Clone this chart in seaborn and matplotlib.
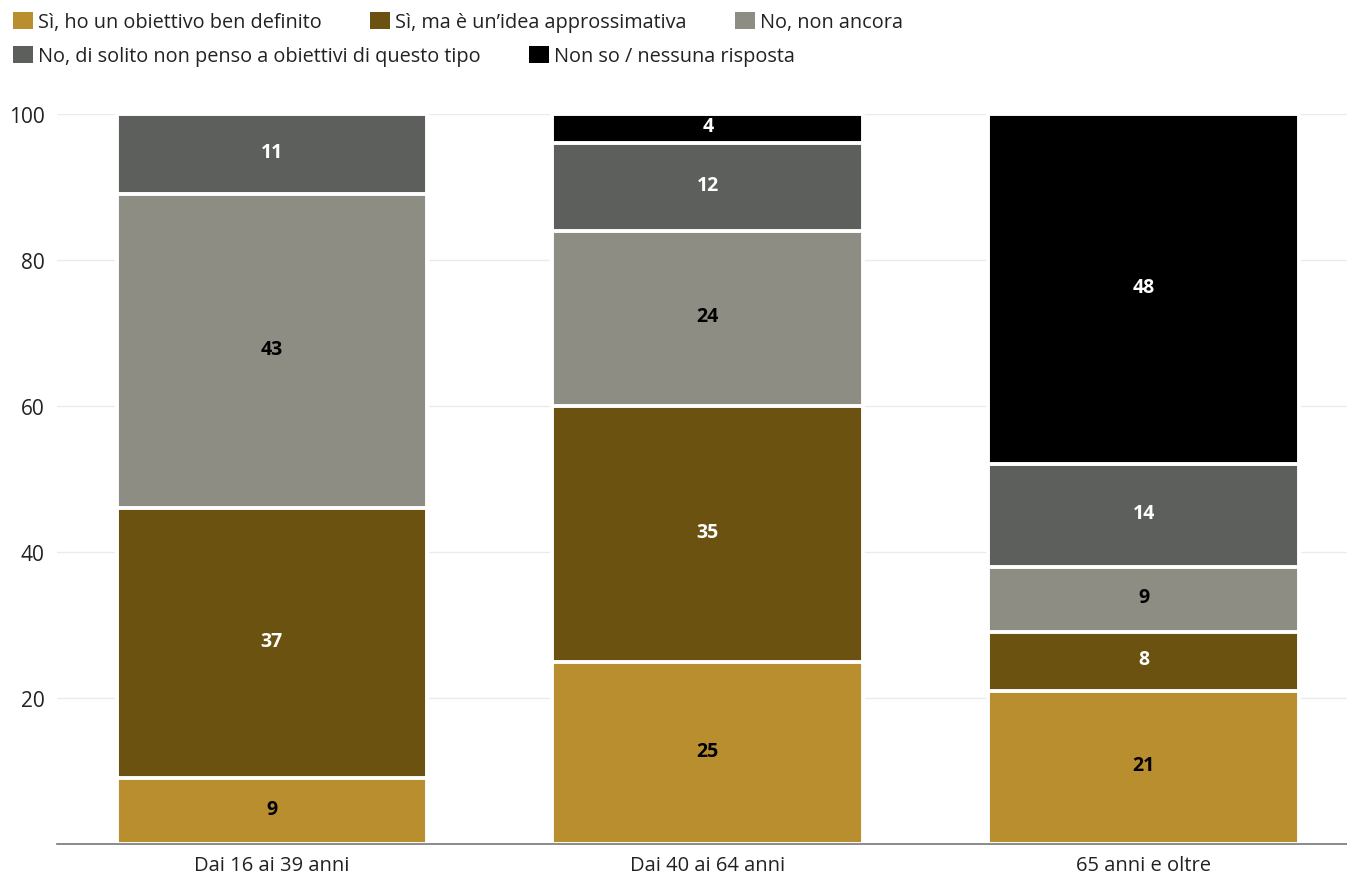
import matplotlib
matplotlib.use("Agg")
import matplotlib.pyplot as plt
import seaborn as sns
import numpy as np
import pandas as pd
from matplotlib.patches import Patch

categories = ["Dai 16 ai 39 anni", "Dai 40 ai 64 anni", "65 anni e oltre"]
series = [
    "Sì, ho un obiettivo ben definito",
    "Sì, ma è un’idea approssimativa",
    "No, non ancora",
    "No, di solito non penso a obiettivi di questo tipo",
    "Non so / nessuna risposta",
]
definito = [9, 25, 21]
approssimativa = [37, 35, 8]
non_ancora = [43, 24, 9]
non_penso = [11, 12, 14]
non_so = [0, 4, 48]

colors = ["#B98E2F", "#6B5211", "#8E8D83", "#5D5F5C", "#000000"]
label_colors = ["black", "white", "black", "white", "white"]

sns.set_theme(style="white")
plt.rcParams["font.family"] = ["Open Sans", "DejaVu Sans"]

values = np.array([definito, approssimativa, non_ancora, non_penso, non_so], dtype=float)
cum = np.cumsum(values, axis=0)

fig = plt.figure(figsize=(13.47, 8.78), dpi=100)
ax = fig.add_axes([57 / 1347, 1 - 845 / 878, 1 - 57 / 1347, (845 - 115) / 878])

# stacked bars: draw cumulative totals from the top series down
for i in range(len(series) - 1, -1, -1):
    df = pd.DataFrame({"cat": categories, "val": cum[i]})
    sns.barplot(data=df, x="cat", y="val", color=colors[i], width=0.713,
                edgecolor="white", linewidth=2.8, saturation=1, ax=ax, zorder=2)

for i in range(len(series)):
    for j in range(len(categories)):
        v = values[i, j]
        if v <= 0:
            continue
        ax.text(j, cum[i, j] - v / 2 + 0.3, f"{int(v)}", ha="center", va="center",
                color=label_colors[i], fontsize=14, fontweight="bold", zorder=5)

ax.set_ylim(0, 100)
ax.set_xlim(-0.493, 2.466)
ax.set_yticks([20, 40, 60, 80, 100])
ax.yaxis.grid(True, color="#EBEBEB", linewidth=1)
ax.set_axisbelow(True)
ax.set_xlabel("")
ax.set_ylabel("")
for s in ["top", "right", "left"]:
    ax.spines[s].set_visible(False)
ax.spines["bottom"].set_color("#777777")
ax.spines["bottom"].set_linewidth(1.2)
ax.spines["bottom"].set_zorder(6)
ax.tick_params(axis="y", length=0, pad=9, labelsize=15, labelcolor="#222222")
ax.tick_params(axis="x", length=0, pad=8, labelsize=14.5, labelcolor="#222222")
for lab in ax.get_yticklabels():
    lab.set_horizontalalignment("right")

handles = [Patch(facecolor=c, edgecolor="none") for c in colors]
leg_kw = dict(frameon=False, loc="center left", fontsize=14.3, handlelength=1.0,
              handleheight=1.0, handletextpad=0.25, columnspacing=2.45,
              borderpad=0, borderaxespad=0, labelcolor="#222222")
leg1 = fig.legend(handles[:3], series[:3], ncol=3,
                  bbox_to_anchor=(13 / 1347, 1 - 23 / 878), **leg_kw)
leg2 = fig.legend(handles[3:], series[3:], ncol=2,
                  bbox_to_anchor=(13 / 1347, 1 - 57 / 878), **leg_kw)

fig.savefig("out.png", dpi=100)
